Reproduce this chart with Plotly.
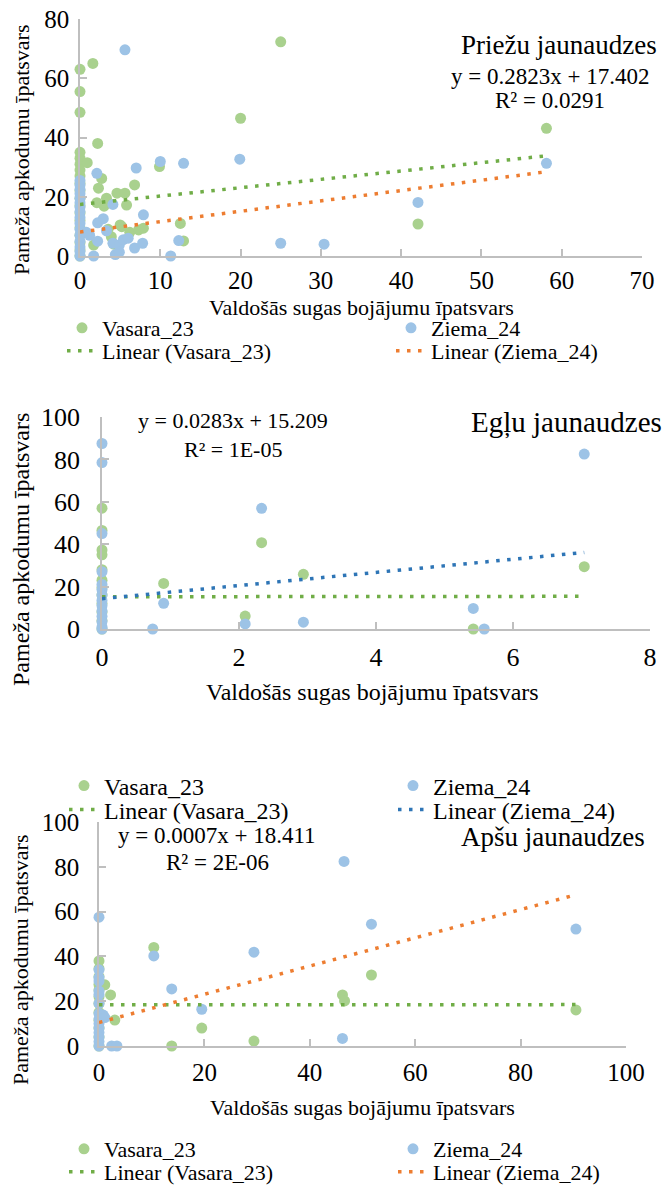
import plotly.graph_objects as go

W, H = 664, 1192
SERIF = "Liberation Serif"
AXIS_CLR = "#bfbfbf"
GREEN_PT, BLUE_PT = "#a9d18e", "#9dc3e6"
GREEN_LN, ORANGE_LN, BLUE_LN = "#70ad47", "#ed7d31", "#2e75b6"

# ---------------- Priežu jaunaudzes ----------------
pr_vas_x = [0] * 19 + [0.9, 1.6, 2.2, 2.7, 2.3, 2.1, 3.0, 3.3, 4.6, 5.6, 5.8, 6.8, 9.9, 12.5,
                       12.9, 20, 25, 42.1, 58.1, 1.7, 3.9, 4.2, 5.2, 6.2, 7.3, 7.9, 5.0, 3.5]
pr_vas_y = [63, 55.5, 48.5, 35, 33, 31, 29, 27, 24.5, 22, 19.5, 17, 14.5, 12, 9.5, 7, 4.5, 2, 0,
            31.5, 65, 38, 26.2, 22.9, 18, 16.8, 19.5, 21.2, 21.2, 17.2, 24, 30.2, 11,
            5.1, 46.5, 72.3, 10.8, 43.1, 3.7, 6.5, 4, 9.9, 8, 8.8, 9.4, 10.5, 9]
pr_zie_x = [0] * 16 + [5.6, 19.9, 12.9, 10, 7, 2.1, 4.1, 7.9, 2.9, 2.2, 0.8, 1.2, 2.2, 3.3, 4.1,
                       4.9, 5.4, 6.0, 6.8, 7.8, 1.7, 4.4, 4.9, 11.3, 12.3, 25, 30.4, 42.1, 58.1]
pr_zie_y = [25.5, 24, 22.5, 21, 19.5, 18, 16.5, 15, 13, 11, 9, 7, 5, 3, 1.5, 0,
            69.6, 32.7, 31.3, 31.9, 29.7, 27.9, 17.4, 13.9, 12.6, 11.2, 8, 7, 5, 8.5, 4.3,
            3.7, 5.5, 6.0, 2.7, 4.3, 0, 0.5, 1.3, 0, 5.2, 4.3, 4, 18.1, 31.3]
pr_vas_fit = (0.2823, 17.402)   # slope, intercept
pr_zie_fit = (0.35, 8.1)

# ---------------- Egļu jaunaudzes ----------------
eg_vas_x = [0] * 12 + [0.9, 2.09, 2.33, 2.94, 5.42, 7.04]
eg_vas_y = [57, 46.5, 37.3, 35, 28, 23, 19.5, 16, 12, 8, 4, 0,
            21.5, 6.1, 40.7, 25.8, 0, 29.4]
eg_zie_x = [0] * 14 + [0.74, 0.9, 2.09, 2.33, 2.94, 5.42, 5.58, 7.04]
eg_zie_y = [87.5, 78.5, 45, 27, 21, 18.5, 16, 13.5, 11, 8.5, 6, 3.5, 1, 0,
            0, 12.1, 2.4, 56.9, 3.2, 9.7, 0, 82.5]
eg_vas_fit = (0.0283, 15.209)
eg_zie_fit = (3.1, 14.3)

# ---------------- Apšu jaunaudzes ----------------
ap_vas_x = [0] * 12 + [1.1, 2.2, 3.0, 10.4, 13.8, 19.5, 29.4, 46.2, 46.6, 51.7, 90.5]
ap_vas_y = [38, 34.5, 31, 27.5, 25, 22, 19, 15, 11.5, 8, 4, 0,
            27.3, 22.8, 11.6, 44, 0, 8, 2.2, 22.8, 20.1, 31.7, 16.1]
ap_zie_x = [0] * 15 + [0.8, 1.1, 2.4, 3.4, 10.4, 13.8, 19.5, 29.4, 46.2, 46.5, 51.7, 90.5]
ap_zie_y = [57.5, 34, 30.5, 29, 24.5, 23, 19, 14.5, 12, 10, 8, 6, 4, 2, 0,
            13.8, 12.7, 0, 0, 40.2, 25.5, 16.4, 41.9, 3.4, 82.4, 54.4, 52.2]
ap_vas_fit = (0.0007, 18.411)
ap_zie_fit = (0.63, 10.5)

series_names = ["Vasara_23", "Ziema_24"]
fit_names = ["Linear (Vasara_23)", "Linear (Ziema_24)"]
panel_titles = ["Priežu jaunaudzes", "Egļu jaunaudzes", "Apšu jaunaudzes"]
equations = [("y = 0.2823x + 17.402", "R² = 0.0291"),
             ("y = 0.0283x + 15.209", "R² = 1E-05"),
             ("y = 0.0007x + 18.411", "R² = 2E-06")]
x_title = "Valdošās sugas bojājumu īpatsvars"
y_title = "Pameža apkodumu īpatsvars"


def fx(px):
    return px / W


def fy(py):
    return 1 - py / H


panels = [
    dict(vas=(pr_vas_x, pr_vas_y), zie=(pr_zie_x, pr_zie_y), fits=(pr_vas_fit, pr_zie_fit),
         fit_colors=(GREEN_LN, ORANGE_LN), xr=[0, 70], xd=10, yr=[0, 80], yd=20,
         box=(80, 642, 19, 256), tick=25, ystand=4, xstand=1,
         title=(559, 45, 27), eq=(550, 77, 100, 23),
         xt=(361, 307, 22), yt=(21, 150, 22),
         leg_rows=(328, 351), leg_x=62, leg_font=22),
    dict(vas=(eg_vas_x, eg_vas_y), zie=(eg_zie_x, eg_zie_y), fits=(eg_vas_fit, eg_zie_fit),
         fit_colors=(GREEN_LN, BLUE_LN), xr=[0, 8], xd=2, yr=[0, 100], yd=20,
         box=(102, 650, 417, 629), tick=26, ystand=15, xstand=4,
         title=(566, 423, 29), eq=(233, 420, 450, 22),
         xt=(372, 692, 24), yt=(21, 550, 24),
         leg_rows=(786, 810), leg_x=64, leg_font=24),
    dict(vas=(ap_vas_x, ap_vas_y), zie=(ap_zie_x, ap_zie_y), fits=(ap_vas_fit, ap_zie_fit),
         fit_colors=(GREEN_LN, ORANGE_LN), xr=[0, 100], xd=20, yr=[0, 100], yd=20,
         box=(99, 626, 822, 1046), tick=25, ystand=13, xstand=3,
         title=(553, 837, 27), eq=(217, 835, 862, 23),
         xt=(362, 1107, 22), yt=(21, 960, 22),
         leg_rows=(1149, 1172), leg_x=64, leg_font=22),
]

fig = go.Figure()
annotations = []
layout = dict(width=W, height=H, margin=dict(l=0, r=0, t=0, b=0, autoexpand=False),
              paper_bgcolor="white", plot_bgcolor="white", showlegend=True)

for i, p in enumerate(panels):
    n = "" if i == 0 else str(i + 1)
    xa, ya = "x" + n, "y" + n
    leg_pts = "legend" if i == 0 else f"legend{2 * i + 1}"
    leg_fit = f"legend{2 * i + 2}"

    for (xs, ys), name, clr, lw in zip((p["vas"], p["zie"]), series_names,
                                        (GREEN_PT, BLUE_PT), (284, 240)):
        fig.add_trace(go.Scatter(
            x=xs, y=ys, mode="markers", name=name, xaxis=xa, yaxis=ya,
            marker=dict(size=11, color=clr, line=dict(width=0)),
            cliponaxis=False, legend=leg_pts, legendwidth=lw))

    for (xs, _), (a, b), name, clr, lw in zip((p["vas"], p["zie"]), p["fits"], fit_names,
                                              p["fit_colors"], (284, 240)):
        x0, x1 = min(xs), max(xs)
        fig.add_trace(go.Scatter(
            x=[x0, x1], y=[a * x0 + b, a * x1 + b], mode="lines", name=name,
            xaxis=xa, yaxis=ya, line=dict(color=clr, width=3.5, dash="3.5px,7.5px"),
            cliponaxis=False, legend=leg_fit, legendwidth=lw))

    l, r, t, bt = p["box"]
    axis_common = dict(showgrid=False, zeroline=False, showline=True, linecolor=AXIS_CLR,
                       linewidth=1.5, ticks="inside", ticklen=7, tickwidth=1.5,
                       tickcolor=AXIS_CLR, tick0=0, fixedrange=True,
                       tickfont=dict(family=SERIF, size=p["tick"], color="black"))
    layout["xaxis" + n] = dict(axis_common, domain=[fx(l), fx(r)], range=p["xr"],
                               dtick=p["xd"], anchor=ya, ticklabelstandoff=p["xstand"])
    layout["yaxis" + n] = dict(axis_common, domain=[fy(bt), fy(t)], range=p["yr"],
                               dtick=p["yd"], anchor=xa, ticklabelstandoff=p["ystand"])

    for key, rowy in zip((leg_pts, leg_fit), p["leg_rows"]):
        layout[key] = dict(orientation="h", x=fx(p["leg_x"]), xanchor="left",
                           y=fy(rowy), yanchor="middle", bgcolor="rgba(0,0,0,0)",
                           font=dict(family=SERIF, size=p["leg_font"], color="black"),
                           itemclick=False, itemdoubleclick=False)

    def note(x, y, text, size, **kw):
        annotations.append(dict(xref="paper", yref="paper", showarrow=False,
                                xanchor="center", yanchor="middle", x=fx(x), y=fy(y),
                                text=text, font=dict(family=SERIF, color="black", size=size),
                                **kw))

    tx, ty, ts = p["title"]
    note(tx, ty, panel_titles[i], ts)
    ex, ey1, ey2, es = p["eq"]
    note(ex, ey1, equations[i][0], es)
    note(ex, ey2, equations[i][1], es)
    xtx, xty, xts = p["xt"]
    note(xtx, xty, x_title, xts)
    ytx, yty, yts = p["yt"]
    note(ytx, yty, y_title, yts, textangle=-90)

layout["annotations"] = annotations
fig.update_layout(**layout)
fig.write_html("out.html", config={"displayModeBar": False})
